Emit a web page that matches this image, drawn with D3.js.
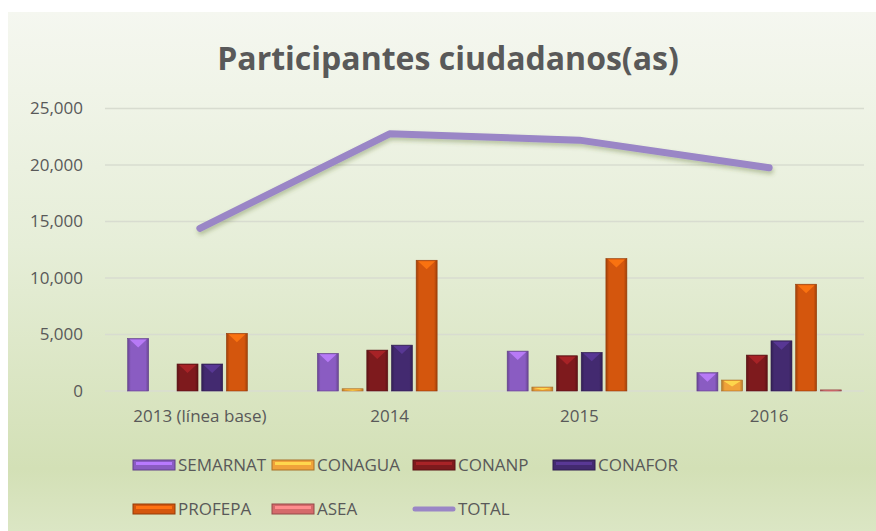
<!DOCTYPE html>
<html>
<head>
<meta charset="utf-8">
<script src="https://cdn.jsdelivr.net/npm/d3@7"></script>
<style>
  body { margin: 0; background: #fff; }
  text { font-family: "Open Sans", "Noto Sans", sans-serif; fill: #595959; }
</style>
</head>
<body>
<div id="chart"></div>
<script>
// chart data
const years = ["2013 (línea base)", "2014", "2015", "2016"]
const series = ["SEMARNAT", "CONAGUA", "CONANP", "CONAFOR", "PROFEPA", "ASEA"]
const semarnat = [4650, 3330, 3530, 1620]
const conagua = [0, 200, 350, 970]
const conanp = [2390, 3620, 3120, 3180]
const conafor = [2390, 4060, 3420, 4440]
const profepa = [5100, 11570, 11720, 9450]
const asea = [0, 0, 0, 100]
const total = [14400, 22760, 22200, 19760]
const yTicks = [0, 5000, 10000, 15000, 20000, 25000]

const values = [semarnat, conagua, conanp, conafor, profepa, asea]
const colors = ["#8a5cc2", "#f0a23a", "#7e1a1d", "#432a70", "#d4560d", "#d56a6b"]
const lineColor = "#9a86c6"

const W = 876, H = 531
const margin = {top: 108.5, right: 12, bottom: 140, left: 105}

const svg = d3.select("#chart")
  .append("svg")
    .attr("width", W)
    .attr("height", H)

const defs = svg.append("defs")

// background gradient
const bg = defs.append("linearGradient").attr("id", "bg")
  .attr("x1", 0).attr("y1", 0).attr("x2", 0).attr("y2", 1)
bg.append("stop").attr("offset", "0%").attr("stop-color", "#f5f7f0")
bg.append("stop").attr("offset", "45%").attr("stop-color", "#e6eed8")
bg.append("stop").attr("offset", "88%").attr("stop-color", "#d3e0b6")
bg.append("stop").attr("offset", "100%").attr("stop-color", "#dbe6c4")

svg.append("rect")
  .attr("x", 8).attr("y", 12)
  .attr("width", W - 8).attr("height", H - 12)
  .attr("fill", "url(#bg)")

// bevel gradient for each series
colors.forEach((c, i) => {
  const g = defs.append("linearGradient").attr("id", "bar" + i)
    .attr("x1", 0).attr("y1", 0).attr("x2", 1).attr("y2", 0)
  g.append("stop").attr("offset", "0%").attr("stop-color", d3.color(c).darker(0.8))
  g.append("stop").attr("offset", "15%").attr("stop-color", c)
  g.append("stop").attr("offset", "85%").attr("stop-color", c)
  g.append("stop").attr("offset", "100%").attr("stop-color", d3.color(c).darker(0.8))
})

const shadow = defs.append("filter").attr("id", "shadow")
  .attr("x", "-10%").attr("y", "-20%").attr("width", "120%").attr("height", "160%")
shadow.append("feDropShadow")
  .attr("dx", 1).attr("dy", 3).attr("stdDeviation", 2)
  .attr("flood-color", "#556b2f").attr("flood-opacity", 0.35)

// title
svg.append("text")
  .attr("x", 448)
  .attr("y", 70)
  .attr("text-anchor", "middle")
  .style("font-size", "32px")
  .style("font-weight", "bold")
  .text("Participantes ciudadanos(as)")

// scales
const x0 = d3.scaleBand()
  .domain(years)
  .range([margin.left, W - margin.right])
  .paddingInner(0.2)
  .paddingOuter(0.1)

const x1 = d3.scaleBand()
  .domain(series)
  .range([0, x0.bandwidth()])
  .padding(0.15)

const y = d3.scaleLinear()
  .domain([0, 25000])
  .range([H - margin.bottom, margin.top])

// gridlines
svg.append("g")
  .selectAll("line")
  .data(yTicks)
  .enter().append("line")
    .attr("x1", margin.left)
    .attr("x2", W - margin.right)
    .attr("y1", d => y(d))
    .attr("y2", d => y(d))
    .attr("stroke", "#d8dcd0")
    .attr("stroke-width", 1.5)

// y axis
const yAxis = svg.append("g")
  .attr("transform", `translate(${margin.left - 22},0)`)
  .call(d3.axisLeft(y).tickValues(yTicks).tickSize(0).tickFormat(d3.format(",")))
yAxis.select(".domain").remove()
yAxis.selectAll("text")
  .attr("x", 0)
  .style("font-size", "17px")
  .style("fill", "#595959")
  .attr("font-family", null)

// x axis
const xAxis = svg.append("g")
  .attr("transform", `translate(0,${y(0) + 16})`)
  .call(d3.axisBottom(x0).tickSize(0))
xAxis.select(".domain").remove()
xAxis.selectAll("text")
  .style("font-size", "17px")
  .style("fill", "#595959")
  .attr("font-family", null)

// bars
const groups = svg.append("g")
  .selectAll("g")
  .data(years)
  .enter().append("g")
    .attr("transform", d => `translate(${x0(d)},0)`)

series.forEach((s, si) => {
  const bars = groups.append("g").datum((d, i) => ({year: d, value: values[si][i]}))
    .filter(d => d.value > 0)

  bars.append("rect")
    .attr("x", x1(s))
    .attr("y", d => y(d.value))
    .attr("width", x1.bandwidth())
    .attr("height", d => y(0) - y(d.value))
    .attr("fill", `url(#bar${si})`)
    .attr("stroke", d3.color(colors[si]).darker(1))
    .attr("stroke-width", 0.6)

  // light bevel triangle at the top of each bar
  bars.append("path")
    .attr("d", d => {
      const bx = x1(s), bw = x1.bandwidth(), top = y(d.value)
      const h = Math.min(8, (y(0) - top) / 2)
      return `M${bx + 2},${top + 1} L${bx + bw - 2},${top + 1} L${bx + bw / 2},${top + 1 + h} Z`
    })
    .attr("fill", d3.color(colors[si]).brighter(0.9))
    .attr("opacity", 0.85)
})

// total line
const line = d3.line()
  .x((d, i) => x0(years[i]) + x0.bandwidth() / 2)
  .y(d => y(d))

svg.append("path")
  .datum(total)
  .attr("d", line)
  .attr("fill", "none")
  .attr("stroke", lineColor)
  .attr("stroke-width", 7)
  .attr("stroke-linecap", "round")
  .attr("stroke-linejoin", "round")
  .attr("filter", "url(#shadow)")

// legend
const legendItems = series.map((s, i) => ({name: s, color: colors[i], idx: i, type: "bar"}))
  .concat([{name: "TOTAL", color: lineColor, type: "line"}])
const legendCols = [133, 272, 413, 553]
const legendRows = [465, 509]

const legend = svg.append("g")
  .selectAll("g")
  .data(legendItems)
  .enter().append("g")
    .attr("transform", (d, i) => `translate(${legendCols[i % 4]},${legendRows[Math.floor(i / 4)]})`)

legend.filter(d => d.type === "bar").append("rect")
  .attr("x", 0).attr("y", -5)
  .attr("width", 42).attr("height", 10)
  .attr("fill", d => d.color)
  .attr("stroke", d => d3.color(d.color).darker(1))
  .attr("stroke-width", 1)

legend.filter(d => d.type === "bar").append("rect")
  .attr("x", 3).attr("y", -3)
  .attr("width", 36).attr("height", 3)
  .attr("fill", d => d3.color(d.color).brighter(0.8))

legend.filter(d => d.type === "line").append("line")
  .attr("x1", 2).attr("x2", 40)
  .attr("y1", 0).attr("y2", 0)
  .attr("stroke", d => d.color)
  .attr("stroke-width", 5)
  .attr("stroke-linecap", "round")

legend.append("text")
  .attr("x", 45)
  .attr("y", 6)
  .style("font-size", "17px")
  .text(d => d.name)
</script>
</body>
</html>
